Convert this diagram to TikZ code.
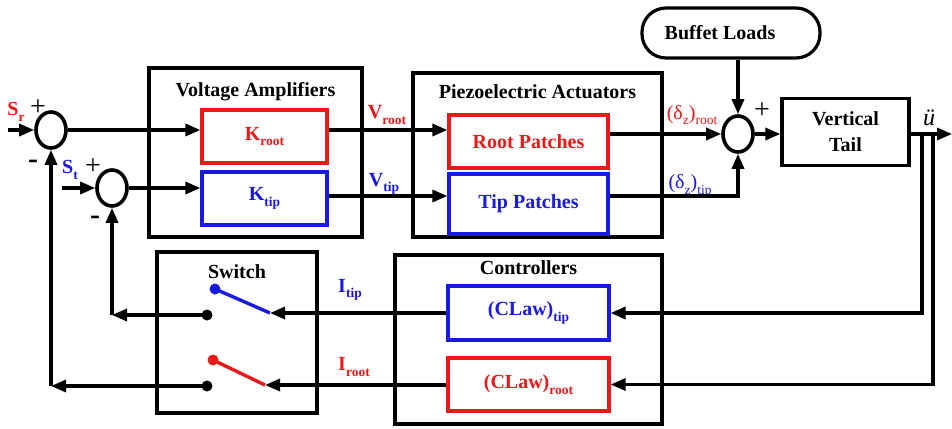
\documentclass[tikz,border=0pt]{standalone}
\usepackage{fontspec}
\setmainfont{Liberation Serif}
\usetikzlibrary{arrows.meta,shapes.geometric,calc}
\definecolor{cred}{RGB}{235,25,25}
\definecolor{cblue}{RGB}{25,25,225}
\newcommand\sbs[1]{\raisebox{-0.28em}{\fontsize{13.5}{14}\selectfont #1}}
\begin{document}
\begin{tikzpicture}[x=1pt,y=-1pt,line width=3.2pt,
  font=\bfseries\fontsize{20}{23}\selectfont,
  >={Triangle[length=15pt,width=12pt]},
  box/.style={draw,rectangle,inner sep=0pt},
  rbox/.style={box,draw=cred,text=cred},
  bbox/.style={box,draw=cblue,text=cblue},
  sumj/.style={draw,ellipse,line width=3.6pt,minimum width=30pt,minimum height=36pt,inner sep=0pt},
  lab/.style={inner sep=0pt},
  sign/.style={inner sep=0pt,font=\fontsize{28}{28}\selectfont},
  minus/.style={inner sep=0pt,font=\bfseries\fontsize{30}{30}\selectfont},
  dotn/.style={circle,fill,inner sep=0pt,minimum size=11pt}]
\fill[white] (0,0) rectangle (952,428);
\useasboundingbox (0,0) rectangle (952,428);

% outer boxes
\node[box,minimum width=213pt,minimum height=169pt] (VA) at (255.5,152.5) {};
\node[lab] (VAt) at (255.5,92) {Voltage Amplifiers};
\node[box,minimum width=249pt,minimum height=164pt] (PA) at (537.5,155) {};
\node[lab] (PAt) at (537.5,92) {Piezoelectric Actuators};
\node[box,minimum width=160pt,minimum height=161pt] (SW) at (237,332.5) {};
\node[lab] (SWt) at (237,272) {Switch};
\node[box,minimum width=267pt,minimum height=169pt] (CT) at (528.5,339.5) {};
\node[lab] (CTt) at (528.5,268) {Controllers};

% inner boxes
\node[rbox,minimum width=125pt,minimum height=53pt] (Kroot) at (264.5,136.5) {K\sbs{root}};
\node[bbox,minimum width=125pt,minimum height=53pt] (Ktip) at (264.5,198.5) {K\sbs{tip}};
\node[rbox,minimum width=159pt,minimum height=53pt] (rootP) at (528.5,141.5) {Root Patches};
\node[bbox,minimum width=159pt,minimum height=60pt] (tipP) at (528.5,204) {Tip Patches};
\node[bbox,minimum width=161pt,minimum height=54pt] (clawT) at (528.5,313) {(CLaw)\sbs{tip}};
\node[rbox,minimum width=161pt,minimum height=53pt] (clawR) at (528.5,384.5) {(CLaw)\sbs{root}};
\node[box,minimum width=127pt,minimum height=67pt,align=center] (VT) at (845.5,132) {Vertical\\[3pt]Tail};
\node[box,rounded corners=24pt,minimum width=178pt,minimum height=50pt] (BL) at (731,33) {\hspace*{-22pt}Buffet Loads};

% summing junctions
\node[sumj] (sumR) at (51,130) {};
\node[sumj] (sumT) at (112,188) {};
\node[sumj] (sumO) at (738,134) {};

% labels
\node[lab,text=cred] at (16,112) {S\sbs{r}};
\node[sign] at (38,108) {+};
\node[minus] at (33,164) {-};
\node[lab,text=cblue] at (70,170) {S\sbs{t}};
\node[sign] at (93,167) {+};
\node[minus] at (95,220) {-};
\node[sign] at (762,111) {+};
\node[lab,text=cred] at (387,115) {V\sbs{root}};
\node[lab,text=cblue] at (384,184) {V\sbs{tip}};
\node[lab,text=cred] at (692,115) {\mdseries(δ\sbs{z})\sbs{root}};
\node[lab,text=cblue] at (690,186) {\mdseries(δ\sbs{z})\sbs{tip}};
\node[lab,text=cblue] at (350,290) {I\sbs{tip}};
\node[lab,text=cred] at (354,367) {I\sbs{root}};
\node[lab,font=\itshape\fontsize{24}{24}\selectfont] at (929,118) {ü};

% coordinates
\coordinate (inR) at (8,130);
\coordinate (inT) at (62,188);
\coordinate (r2) at (0,196);
\coordinate (out) at (952,134);
\coordinate (fb1) at (922,134);
\coordinate (fb2) at (933,134);
\coordinate (swTin) at (270,313);
\coordinate (swRin) at (265,385);
\node[dotn,cblue] (bdT) at (215,289) {};
\node[dotn] (kdT) at (207,315) {};
\node[dotn,cred] (bdR) at (213,360) {};
\node[dotn] (kdR) at (207,386) {};

% forward path
\draw[->] (inR) -- (sumR.west);
\draw[->] (sumR.east) -- (sumR.east -| Kroot.west);
\draw[->] (Kroot.east |- sumR) -- (rootP.west |- sumR);
\draw[->] (rootP.east |- sumO) -- (sumO.west);
\draw[->] (inT) -- (sumT.west);
\draw[->] (sumT.east) -- (sumT.east -| Ktip.west);
\draw[->] (Ktip.east |- r2) -- (tipP.west |- r2);
\draw[->] (tipP.east |- r2) -| (sumO.south);
\draw[->] (BL.south -| sumO) -- (sumO.north);
\draw[->] (sumO.east) -- (sumO.east -| VT.west);
\draw[->] (VT.east |- sumO) -- (out);

% feedback
\draw[->] (fb1) |- (clawT.east);
\draw[->] (fb2) |- (clawR.east);
\draw[->] (clawT.west) -- (swTin);
\draw[->] (clawR.west |- swRin) -- (swRin);
\draw[cblue,line width=3.4pt] (bdT.center) -- (swTin);
\draw[cred,line width=3.4pt] (bdR.center) -- (swRin);
\draw[->] (kdT.center) -- (kdT -| sumT.south);
\draw[->] (kdT -| sumT.south) -- (sumT.south);
\draw[->] (kdR.center) -- (kdR -| sumR.south);
\draw[->] (kdR -| sumR.south) -- (sumR.south);
\end{tikzpicture}
\end{document}
